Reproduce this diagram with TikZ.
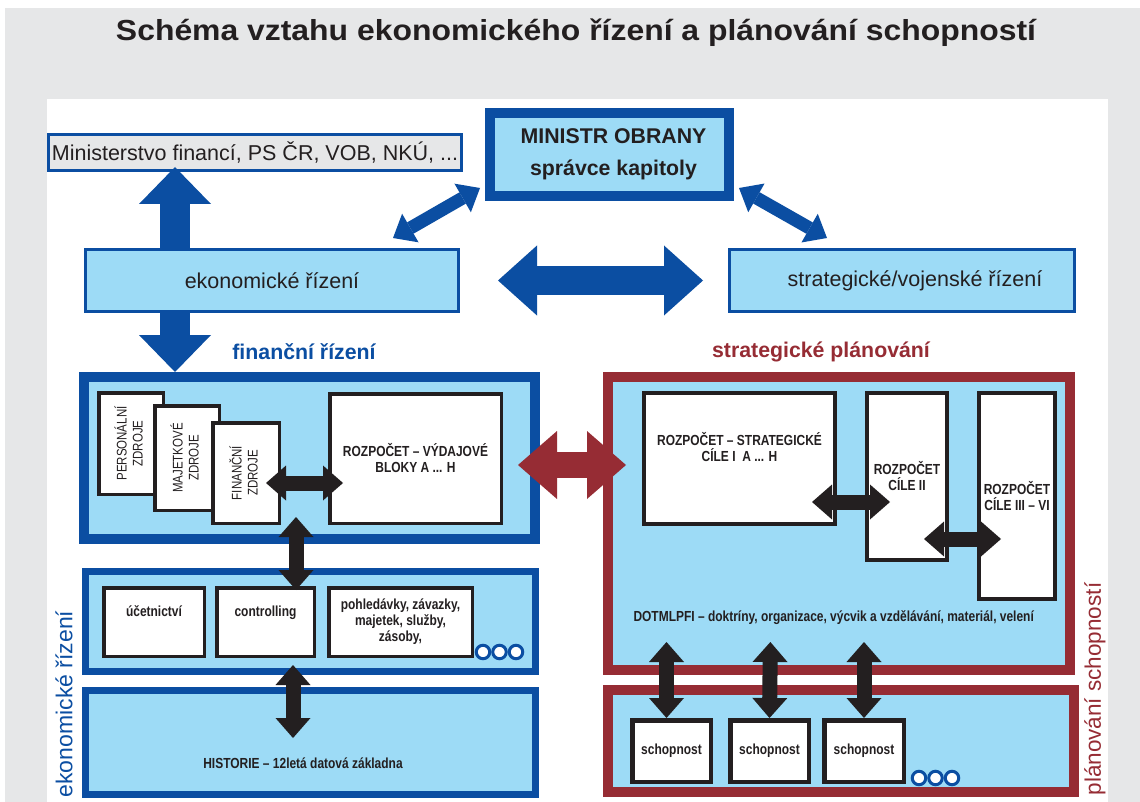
\documentclass[tikz,border=0pt]{standalone}
\usepackage{fontspec}
\setmainfont{Liberation Sans}
\newfontfamily\narrowfont[FakeStretch=0.82]{Liberation Sans}
\newfontfamily\titlefont[FakeStretch=1.1]{Liberation Sans}
\usetikzlibrary{arrows.meta,calc}
\definecolor{cblue}{RGB}{11,78,162}
\definecolor{clight}{RGB}{157,219,246}
\definecolor{cred}{RGB}{150,44,52}
\definecolor{cgrey}{RGB}{230,231,232}
\definecolor{cblack}{RGB}{35,31,32}
\tikzset{
  bx/.style={rectangle, inner sep=0pt, text=cblack, align=center},
  bluebox/.style={bx, draw=cblue, fill=clight, line width=3pt},
  redbox/.style={bx, draw=cred, fill=clight, line width=10pt},
  greybox/.style={bx, draw=cblue, fill=cgrey, line width=3pt},
  card/.style={bx, draw=cblack, fill=white, line width=3.5pt},
  regtxt/.style={font=\fontsize{21.5}{26}\selectfont},
  boldtxt/.style={font=\bfseries\fontsize{21.3}{32}\selectfont},
  nbtxt/.style={font=\narrowfont\bfseries\fontsize{14.6}{16}\selectfont},
  nrtxt/.style={font=\narrowfont\fontsize{14}{16}\selectfont},
  circ/.style={circle, draw=cblue, fill=white, line width=3pt, minimum size=13.5pt, inner sep=0pt},
  blkarrow/.style={draw=cblack, line width=15pt,
    arrows={Triangle[length=20pt,width=35pt,line width=0pt]-Triangle[length=20pt,width=35pt,line width=0pt]}},
  bluesingle/.style={draw=cblue, line width=30pt,
    arrows={-Triangle[length=37pt,width=72pt,line width=0pt]}},
  bluedouble/.style={draw=cblue, line width=28pt,
    arrows={Triangle[length=39pt,width=70pt,line width=0pt]-Triangle[length=39pt,width=70pt,line width=0pt]}},
  bluediag/.style={draw=cblue, line width=13pt,
    arrows={Triangle[length=20pt,width=33pt,line width=0pt]-Triangle[length=20pt,width=33pt,line width=0pt]}},
  reddouble/.style={draw=cred, line width=26pt,
    arrows={Triangle[length=39pt,width=68pt,line width=0pt]-Triangle[length=39pt,width=68pt,line width=0pt]}},
}
\begin{document}
\begin{tikzpicture}[x=1pt,y=-1pt]
\useasboundingbox (0,0) rectangle (1140,802);
\fill[white] (0,0) rectangle (1140,802);
\fill[cgrey] (5,8) rectangle (1140,802);
\fill[white] (47,99) rectangle (1108,802);

\node[font=\titlefont\bfseries\fontsize{29}{34}\selectfont, text=cblack, anchor=base] (title) at (576,41)
  {Schéma vztahu ekonomického řízení a plánování schopností};

% top row
\node[greybox, regtxt, minimum width=413pt, minimum height=36pt] (mf) at (255,152.5)
  {Ministerstvo financí, PS ČR, VOB, NKÚ, ...};
\node[bluebox, boldtxt, line width=10pt, minimum width=239pt, minimum height=83pt] (mo) at (609.5,154.5)
  {\hspace*{8pt}MINISTR OBRANY\\\hspace*{8pt}správce kapitoly};
\node[bluebox, regtxt, minimum width=373pt, minimum height=62pt] (eko) at (272,280.5)
  {ekonomické řízení};
\node[bluebox, regtxt, minimum width=345pt, minimum height=62pt] (svr) at (902,280.5)
  {\hspace*{26pt}strategické/vojenské řízení};

% section labels
\node[boldtxt, text=cblue] (finlbl) at (304,352) {finanční řízení};
\node[boldtxt, text=cred] (spllbl) at (821,352) {strategické plánování};
\node[rotate=90, text=cblue, font=\fontsize{23}{28}\selectfont] (ekolbl) at (64,704) {ekonomické řízení};
\node[rotate=90, text=cred, font=\fontsize{22.5}{27}\selectfont] (plnlbl) at (1095,689) {plánování schopností};

% finance block
\node[bluebox, line width=10pt, minimum width=451pt, minimum height=162pt] (fin) at (309.5,458) {};
\node[card, nrtxt, minimum width=64.5pt, minimum height=101.5pt] (pz) at (131,443.5)
  {\rotatebox{90}{\begin{tabular}{@{}c@{}}PERSONÁLNÍ\\ZDROJE\end{tabular}}};
\node[card, nrtxt, minimum width=64.5pt, minimum height=104.5pt] (mz) at (187,458)
  {\rotatebox{90}{\begin{tabular}{@{}c@{}}MAJETKOVÉ\\ZDROJE\end{tabular}}};
\node[card, nrtxt, minimum width=66.5pt, minimum height=100.5pt] (fz) at (246,473)
  {\rotatebox{90}{\begin{tabular}{@{}c@{}}FINANČNÍ\\ZDROJE\end{tabular}}};
\node[card, nbtxt, minimum width=171.5pt, minimum height=129.5pt] (rvb) at (415.5,458.5)
  {ROZPOČET – VÝDAJOVÉ\\BLOKY A ... H};

% economic middle block
\node[bluebox, line width=7pt, minimum width=450pt, minimum height=100pt] (emid) at (310.5,621.5) {};
\node[card, nbtxt, minimum width=100.5pt, minimum height=68.5pt] (uc) at (154,622) {účetnictví\\[6pt]};
\node[card, nbtxt, minimum width=97.5pt, minimum height=68.5pt] (ctl) at (265.5,622) {controlling\\[6pt]};
\node[card, nbtxt, minimum width=143.5pt, minimum height=68.5pt] (poh) at (400.5,622)
  {pohledávky, závazky,\\majetek, služby,\\zásoby,};
\node[circ] (c1) at (483,652) {};
\node[circ] (c2) at (499.5,652) {};
\node[circ] (c3) at (516,652) {};

% history block
\node[bluebox, line width=7pt, minimum width=450pt, minimum height=104pt] (hist) at (310.5,742.5) {};
\node[nbtxt, text=cblack] (histtxt) at (303,763) {HISTORIE – 12letá datová základna};

% strategic planning block
\node[redbox, minimum width=462pt, minimum height=293pt] (spl) at (839,523.5) {};
\node[card, nbtxt, line width=4pt, minimum width=191pt, minimum height=131pt] (rsc) at (739.5,458.5)
  {ROZPOČET – STRATEGICKÉ\\CÍLE I\ \ A ... H\\[8pt]};
\node[card, nbtxt, line width=4pt, minimum width=80pt, minimum height=167pt] (rc2) at (907,476.5)
  {ROZPOČET\\CÍLE II};
\node[card, nbtxt, line width=4pt, minimum width=76pt, minimum height=206pt] (rc3) at (1017,496)
  {ROZPOČET\\CÍLE III – VI};
\node[nbtxt, text=cblack, anchor=west] (dotm) at (630,618)
  {DOTMLPFI – doktríny, organizace, výcvik a vzdělávání, materiál, velení};

% capabilities block
\node[redbox, minimum width=466pt, minimum height=102pt] (spl2) at (841,741) {};
\node[card, nbtxt, line width=4.5pt, minimum width=78.5pt, minimum height=61.5pt] (s1) at (671.5,751) {schopnost};
\node[card, nbtxt, line width=4.5pt, minimum width=78.5pt, minimum height=61.5pt] (s2) at (769.5,751) {schopnost};
\node[card, nbtxt, line width=4.5pt, minimum width=79.5pt, minimum height=61.5pt] (s3) at (864,751) {schopnost};
\node[circ] (c4) at (919,778) {};
\node[circ] (c5) at (935.5,778) {};
\node[circ] (c6) at (952,778) {};

% blue arrows
\draw[bluesingle] ($(eko.north west)+(91,0)$) -- ($(mf.south west)+(128,-5)$);
\draw[bluesingle] ($(eko.south west)+(91,0)$) -- ($(fin.north west)+(96,0)$);
\draw[bluedouble, shorten <=38pt, shorten >=25pt] (eko.east) -- (svr.west);
\draw[bluediag] ($(eko.north east)+(-67,-10)$) -- ($(mo.south west)+(-5,-13)$);
\draw[bluediag] ($(mo.south east)+(5,-13)$) -- ($(svr.north west)+(99,-10)$);

% red arrow
\draw[reddouble, shorten <=-22pt, shorten >=-23pt] ($(fin.east)+(0,7)$) -- ($(spl.west)+(0,-58.5)$);

% black arrows
\draw[blkarrow, shorten <=-15pt, shorten >=-15pt] ($(fz.east)+(0,10)$) -- ($(rvb.west)+(0,24.5)$);
\draw[blkarrow, shorten <=-27pt, shorten >=-22pt] ($(fin.south west)+(217,0)$) -- ($(emid.north west)+(214,0)$);
\draw[blkarrow, shorten <=-10pt, shorten >=-51pt] ($(emid.south west)+(211,0)$) -- ($(hist.north west)+(211,0)$);
\draw[blkarrow, shorten <=-25pt, shorten >=-25pt] ($(rsc.east)+(0,43.5)$) -- ($(rc2.west)+(0,25.5)$);
\draw[blkarrow, shorten <=-25pt, shorten >=-24pt] ($(rc2.east)+(0,62.5)$) -- ($(rc3.west)+(0,43)$);
\draw[blkarrow, shorten <=-33pt] ($(spl.south west)+(63.5,0)$) -- ($(s1.north)+(-5,0)$);
\draw[blkarrow, shorten <=-33pt] ($(spl.south west)+(167,0)$) -- (s2.north);
\draw[blkarrow, shorten <=-33pt] ($(spl.south west)+(261,0)$) -- (s3.north);
\end{tikzpicture}
\end{document}
